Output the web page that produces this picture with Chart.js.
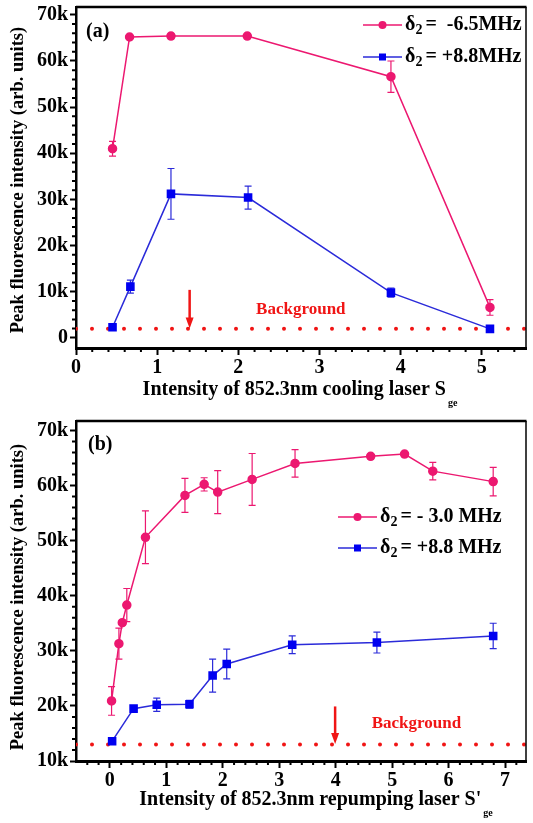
<!DOCTYPE html>
<html>
<head>
<meta charset="utf-8">
<script src="https://cdn.jsdelivr.net/npm/chart.js@4.4.1/dist/chart.umd.min.js"></script>
<style>
  html, body { margin: 0; padding: 0; background: #fff; }
  #wrap { position: relative; width: 533px; height: 823px; }
  canvas { position: absolute; left: 0; }
</style>
</head>
<body>
<div id="wrap">
  <canvas id="chartA" width="533" height="412" style="top:0"></canvas>
  <canvas id="chartB" width="533" height="411" style="top:412px"></canvas>
</div>
<script>
// ---- panel (a): cooling laser ----
const aPinkX = [0.45, 0.66, 1.17, 2.11, 3.88, 5.10];
const aPinkY = [41000, 65200, 65400, 65400, 56600, 6600];
const aPinkErr = [1600, 0, 0, 0, 3400, 1700];
const aBlueX = [0.45, 0.67, 1.17, 2.12, 3.88, 5.10];
const aBlueY = [2300, 11100, 31200, 30400, 9800, 1950];
const aBlueErr = [0, 1400, 5500, 2500, 1000, 0];
const aBackground = 1950;
const aLegend = ['=  -6.5MHz', '= +8.8MHz'];
const aXTicks = [0, 1, 2, 3, 4, 5];
const aXLabels = ['0', '1', '2', '3', '4', '5'];
const aYTicks = [0, 10000, 20000, 30000, 40000, 50000, 60000, 70000];
const aYLabels = ['0', '10k', '20k', '30k', '40k', '50k', '60k', '70k'];

// ---- panel (b): repumping laser ----
const bPinkX = [0.03, 0.16, 0.22, 0.30, 0.63, 1.33, 1.67, 1.91, 2.52, 3.28, 4.62, 5.22, 5.72, 6.79];
const bPinkY = [20900, 31300, 35100, 38300, 50600, 58200, 60200, 58800, 61100, 64000, 65300, 65700, 62600, 60700];
const bPinkErr = [2600, 2800, 0, 3000, 4800, 3100, 1200, 3900, 4700, 2500, 0, 0, 1600, 2600];
const bBlueX = [0.04, 0.42, 0.83, 1.41, 1.82, 2.07, 3.23, 4.73, 6.79];
const bBlueY = [13600, 19500, 20200, 20300, 25500, 27600, 31100, 31500, 32700];
const bBlueErr = [0, 0, 1200, 700, 3000, 2700, 1600, 1900, 2300];
const bBackground = 13000;
const bLegend = ['= - 3.0 MHz', '= +8.8 MHz'];
const bXTicks = [0, 1, 2, 3, 4, 5, 6, 7];
const bXLabels = ['0', '1', '2', '3', '4', '5', '6', '7'];
const bYTicks = [10000, 20000, 30000, 40000, 50000, 60000, 70000];
const bYLabels = ['10k', '20k', '30k', '40k', '50k', '60k', '70k'];

const SERIF = '"Liberation Serif", "DejaVu Serif", serif';
const PINK = '#EC1870';
const BLUE_LINE = '#2B2BD9';
const BLUE = '#0000F0';
const RED = '#F01515';

const pts = (xs, ys) => xs.map((x, i) => ({ x: x, y: ys[i] }));

// error bars, frame, minor ticks, legend, titles, arrow
const extras = {
  id: 'extras',
  beforeDatasetsDraw(chart) {
    const { ctx, scales: { x, y } } = chart;
    chart.data.datasets.forEach(ds => {
      if (!ds.errors) return;
      ctx.save();
      ctx.strokeStyle = ds.borderColor;
      ctx.lineWidth = 1.2;
      ds.data.forEach((p, i) => {
        const e = ds.errors[i];
        if (!e) return;
        const px = x.getPixelForValue(p.x);
        const t = y.getPixelForValue(p.y + e), b = y.getPixelForValue(p.y - e);
        ctx.beginPath();
        ctx.moveTo(px, t); ctx.lineTo(px, b);
        ctx.moveTo(px - 3.5, t); ctx.lineTo(px + 3.5, t);
        ctx.moveTo(px - 3.5, b); ctx.lineTo(px + 3.5, b);
        ctx.stroke();
      });
      ctx.restore();
    });
  },
  afterDraw(chart, args, o) {
    const { ctx, chartArea: a, scales: { x, y } } = chart;
    ctx.save();
    ctx.strokeStyle = '#000';
    // top + right frame
    ctx.lineWidth = 2.5;
    ctx.beginPath(); ctx.moveTo(a.left, a.top); ctx.lineTo(a.right, a.top); ctx.stroke();
    ctx.lineWidth = 1.5;
    ctx.beginPath(); ctx.moveTo(a.right - 0.5, a.top); ctx.lineTo(a.right - 0.5, a.bottom); ctx.stroke();

    // minor ticks
    ctx.lineWidth = 2;
    ctx.beginPath();
    for (let v = o.yMinor[0]; v <= o.yMinor[1] + 1; v += o.yMinor[2]) {
      if (v % 10000 === 0) continue;
      const py = y.getPixelForValue(v);
      ctx.moveTo(a.left - 4, py); ctx.lineTo(a.left, py);
    }
    for (let k = 0; ; k++) {
      const v = o.xMinor[0] + k * o.xMinor[2];
      if (v > o.xMinor[1] + 1e-6) break;
      if (Math.abs(v - Math.round(v)) < 1e-6) continue;
      const px = x.getPixelForValue(v);
      ctx.moveTo(px, a.bottom); ctx.lineTo(px, a.bottom + 4);
    }
    ctx.stroke();

    // panel tag
    ctx.fillStyle = '#000';
    ctx.font = 'bold 20px ' + SERIF;
    ctx.textBaseline = 'middle';
    ctx.textAlign = 'left';
    ctx.fillText(o.tag.text, o.tag.x, o.tag.y);

    // legend
    chart.data.datasets.forEach((ds, i) => {
      if (ds.legendText === undefined) return;
      const ly = o.legend.rows[i];
      const lx = o.legend.x;
      ctx.strokeStyle = ds.borderColor;
      ctx.lineWidth = 1.5;
      ctx.beginPath(); ctx.moveTo(lx, ly); ctx.lineTo(lx + 39, ly); ctx.stroke();
      ctx.fillStyle = ds.pointBackgroundColor;
      if (ds.pointStyle === 'rect') {
        ctx.fillRect(lx + 19.5 - 3.5, ly - 3.5, 7, 7);
      } else {
        ctx.beginPath(); ctx.arc(lx + 19.5, ly, 4, 0, Math.PI * 2); ctx.fill();
      }
      ctx.fillStyle = '#000';
      ctx.font = o.legend.font + SERIF;
      let tx = lx + 42;
      ctx.fillText('\u03b4', tx, ly);
      tx += ctx.measureText('\u03b4').width;
      ctx.font = o.legend.subFont + SERIF;
      ctx.fillText('2', tx, ly + 5);
      tx += ctx.measureText('2').width + 3;
      ctx.font = o.legend.font + SERIF;
      ctx.fillText(ds.legendText, tx, ly);
    });

    // background arrow + label
    const ax = x.getPixelForValue(o.arrow.x);
    const ay0 = y.getPixelForValue(o.arrow.from), ay1 = y.getPixelForValue(o.arrow.to);
    ctx.strokeStyle = RED; ctx.fillStyle = RED;
    ctx.lineWidth = 2.5;
    ctx.beginPath(); ctx.moveTo(ax, ay0); ctx.lineTo(ax, ay1 - 9); ctx.stroke();
    ctx.beginPath(); ctx.moveTo(ax - 4, ay1 - 11); ctx.lineTo(ax + 4, ay1 - 11); ctx.lineTo(ax, ay1); ctx.closePath(); ctx.fill();
    ctx.font = 'bold 17px ' + SERIF;
    ctx.textAlign = 'center';
    ctx.fillText('Background', x.getPixelForValue(o.bgLabel.x), y.getPixelForValue(o.bgLabel.y));

    // axis titles
    ctx.fillStyle = '#000';
    ctx.font = 'bold 20px ' + SERIF;
    ctx.textAlign = 'left';
    const mw = ctx.measureText(o.xTitle.text).width;
    ctx.font = 'bold 10px ' + SERIF;
    const sw = ctx.measureText(o.xTitle.sub).width;
    const sx = o.xTitle.cx - (mw + sw) / 2;
    ctx.font = 'bold 20px ' + SERIF;
    ctx.fillText(o.xTitle.text, sx, o.xTitle.y);
    ctx.font = 'bold 10px ' + SERIF;
    ctx.fillText(o.xTitle.sub, sx + mw + 2, o.xTitle.y + 13);

    ctx.translate(o.yTitle.x, o.yTitle.cy);
    ctx.rotate(-Math.PI / 2);
    ctx.font = 'bold 18.5px ' + SERIF;
    ctx.textAlign = 'center';
    ctx.fillText('Peak fluorescence intensity (arb. units)', 0, 0);
    ctx.restore();
  }
};

function makePanel(id, p) {
  const tickFont = { family: SERIF, weight: 'bold', size: 20 };
  return new Chart(document.getElementById(id), {
    type: 'line',
    data: {
      datasets: [
        {
          data: pts(p.pinkX, p.pinkY), errors: p.pinkErr, legendText: p.legend[0],
          borderColor: PINK, backgroundColor: PINK, pointBackgroundColor: PINK, pointBorderColor: PINK,
          borderWidth: 1.5, pointStyle: 'circle', pointRadius: 4, tension: 0
        },
        {
          data: pts(p.blueX, p.blueY), errors: p.blueErr, legendText: p.legend[1],
          borderColor: BLUE_LINE, backgroundColor: BLUE, pointBackgroundColor: BLUE, pointBorderColor: BLUE,
          borderWidth: 1.5, pointStyle: 'rect', pointRadius: 5, tension: 0
        },
        {
          data: [{ x: p.xMin, y: p.bg }, { x: p.xMax, y: p.bg }],
          borderColor: RED, borderWidth: 4, borderDash: [0, 16], borderCapStyle: 'round',
          pointRadius: 0
        }
      ]
    },
    options: {
      responsive: false,
      animation: false,
      events: [],
      layout: { padding: { top: p.padTop, right: 1, left: 0, bottom: 0 } },
      scales: {
        x: {
          type: 'linear', min: p.xMin, max: p.xMax,
          afterBuildTicks: s => { s.ticks = p.xTicks.map(v => ({ value: v })); },
          afterFit: s => { s.height = p.xAxisH; s.paddingLeft = 0; s.paddingRight = 0; },
          grid: { drawOnChartArea: false, drawTicks: true, tickLength: 7, tickWidth: 2, color: '#000' },
          border: { display: true, color: '#000', width: 3 },
          ticks: {
            color: '#000', font: tickFont, padding: 1, maxRotation: 0, autoSkip: false,
            callback: (v, i) => p.xLabels[i]
          }
        },
        y: {
          type: 'linear', min: p.yMin, max: p.yMax,
          afterBuildTicks: s => { s.ticks = p.yTicks.map(v => ({ value: v })); },
          afterFit: s => { s.width = 76; s.paddingTop = 0; s.paddingBottom = 0; },
          grid: { drawOnChartArea: false, drawTicks: true, tickLength: 6, tickWidth: 2, color: '#000' },
          border: { display: true, color: '#000', width: 2.5 },
          ticks: {
            color: '#000', font: tickFont, padding: 2, autoSkip: false,
            callback: (v, i) => p.yLabels[i]
          }
        }
      },
      plugins: {
        legend: { display: false },
        tooltip: { enabled: false },
        extras: p.extras
      }
    },
    plugins: [extras]
  });
}

makePanel('chartA', {
  pinkX: aPinkX, pinkY: aPinkY, pinkErr: aPinkErr,
  blueX: aBlueX, blueY: aBlueY, blueErr: aBlueErr,
  bg: aBackground, legend: aLegend,
  xTicks: aXTicks, xLabels: aXLabels, yTicks: aYTicks, yLabels: aYLabels,
  xMin: 0, xMax: 5.55, yMin: -2200, yMax: 71700,
  padTop: 7, xAxisH: 64,
  extras: {
    yMinor: [0, 70000, 2000], xMinor: [0, 5.4, 0.2],
    tag: { text: '(a)', x: 86, y: 32 },
    legend: { x: 363, rows: [25, 57], font: 'bold 20px ', subFont: 'bold 14px ' },
    arrow: { x: 1.40, from: 10400, to: 2000 },
    bgLabel: { x: 2.77, y: 6100 },
    xTitle: { text: 'Intensity of 852.3nm cooling laser S', sub: 'ge', cx: 299, y: 390 },
    yTitle: { x: 18, cy: 180 }
  }
});

makePanel('chartB', {
  pinkX: bPinkX, pinkY: bPinkY, pinkErr: bPinkErr,
  blueX: bBlueX, blueY: bBlueY, blueErr: bBlueErr,
  bg: bBackground, legend: bLegend,
  xTicks: bXTicks, xLabels: bXLabels, yTicks: bYTicks, yLabels: bYLabels,
  xMin: -0.6, xMax: 7.38, yMin: 10000, yMax: 71700,
  padTop: 9, xAxisH: 62,
  extras: {
    yMinor: [10000, 70000, 2000], xMinor: [-0.4, 7.2, 0.2],
    tag: { text: '(b)', x: 88, y: 33 },
    legend: { x: 338, rows: [105, 136], font: 'bold 20px ', subFont: 'bold 14px ' },
    arrow: { x: 3.99, from: 19900, to: 13100 },
    bgLabel: { x: 5.43, y: 16800 },
    xTitle: { text: "Intensity of 852.3nm repumping laser S'", sub: 'ge', cx: 315, y: 388 },
    yTitle: { x: 18, cy: 185 }
  }
});
</script>
</body>
</html>
